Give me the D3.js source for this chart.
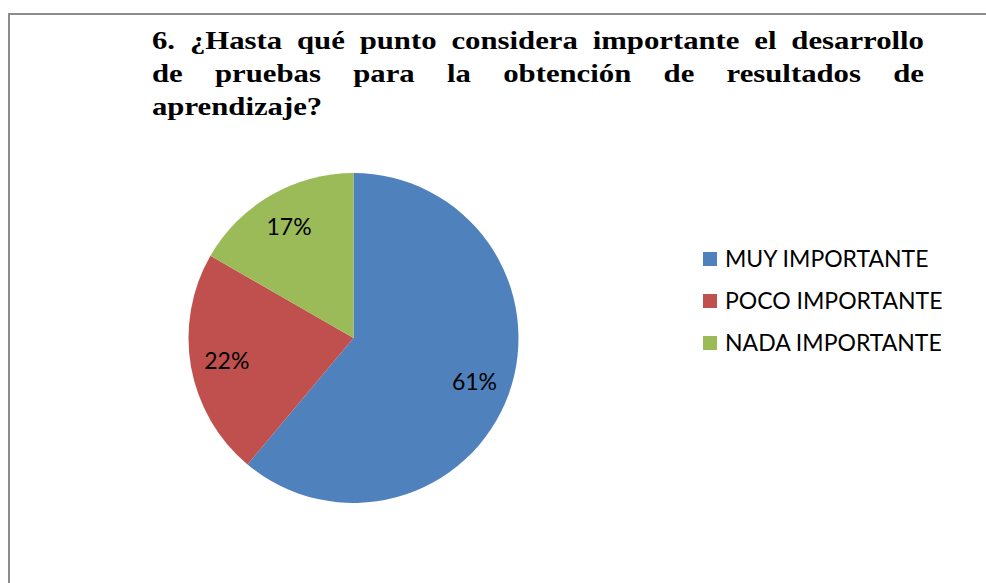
<!DOCTYPE html>
<html>
<head>
<meta charset="utf-8">
<script src="https://cdn.jsdelivr.net/npm/d3@7"></script>
<style>
  body { margin: 0; background: #fff; }
  svg { display: block; }
</style>
</head>
<body>
<script>
// chart data
const categories = ['MUY IMPORTANTE', 'POCO IMPORTANTE', 'NADA IMPORTANTE'];
const values = [61.1, 22.2, 16.7];
const colors = ['#4f81bd', '#c0504d', '#9bbb59'];
const titleLines = [
    '6. ¿Hasta qué punto considera importante el desarrollo',
    'de pruebas para la obtención de resultados de',
    'aprendizaje?'
];

const width = 986, height = 583;

const svg = d3.select('body').append('svg')
    .attr('width', width)
    .attr('height', height);

// frame lines (top and left only are visible)
svg.append('line')
    .attr('x1', 9).attr('y1', 14).attr('x2', width).attr('y2', 14)
    .style('stroke', '#8c8c8c').style('stroke-width', 2);
svg.append('line')
    .attr('x1', 9).attr('y1', 13).attr('x2', 9).attr('y2', height)
    .style('stroke', '#8c8c8c').style('stroke-width', 2);

// title, justified like in the document; the source text is stretched sideways
const stretch = 1.23;
const titleLeft = 152 / stretch, titleRight = 924 / stretch, titleTop = 49, lineGap = 33;
const title = svg.append('g')
    .attr('transform', `scale(${stretch},1)`)
    .style('font-family', '"Liberation Serif", "Times New Roman", serif')
    .style('font-weight', 'bold')
    .style('font-size', '25px')
    .style('fill', '#000');

titleLines.forEach((line, i) => {
    const words = line.split(' ');
    const y = titleTop + i * lineGap;
    const texts = words.map(w => title.append('text').attr('y', y).text(w));
    const widths = texts.map(t => t.node().getComputedTextLength());
    const total = d3.sum(widths);
    const last = i === titleLines.length - 1;
    const gap = last ? 6 : (titleRight - titleLeft - total) / (words.length - 1);
    let x = titleLeft;
    texts.forEach((t, j) => {
        t.attr('x', x);
        x += widths[j] + gap;
    });
});

// pie
const cx = 353.5, cy = 338, radius = 165;
const pie = d3.pie().sort(null).value(d => d)(values);
const arc = d3.arc().innerRadius(0).outerRadius(radius);
const labelArc = d3.arc().innerRadius(radius * 0.78).outerRadius(radius * 0.78);

const g = svg.append('g').attr('transform', `translate(${cx},${cy})`);

g.selectAll('path')
    .data(pie)
    .enter().append('path')
    .attr('d', arc)
    .style('fill', (d, i) => colors[i]);

g.selectAll('.label')
    .data(pie)
    .enter().append('text')
    .attr('class', 'label')
    .attr('transform', d => `translate(${labelArc.centroid(d)})`)
    .attr('dy', '0.36em')
    .attr('text-anchor', 'middle')
    .style('font-family', 'Lato, "Open Sans", sans-serif')
    .style('font-size', '23px')
    .style('fill', '#000')
    .text(d => Math.round(d.data) + '%');

// legend
const legend = svg.append('g').attr('transform', 'translate(703,259)');
const item = legend.selectAll('g')
    .data(categories)
    .enter().append('g')
    .attr('transform', (d, i) => `translate(0,${i * 42})`);

item.append('rect')
    .attr('x', 0).attr('y', -7)
    .attr('width', 14).attr('height', 14)
    .style('fill', (d, i) => colors[i]);

item.append('text')
    .attr('x', 22)
    .attr('dy', '0.36em')
    .style('font-family', 'Lato, "Open Sans", sans-serif')
    .style('font-size', '23px')
    .style('fill', '#000')
    .text(d => d);
</script>
</body>
</html>
